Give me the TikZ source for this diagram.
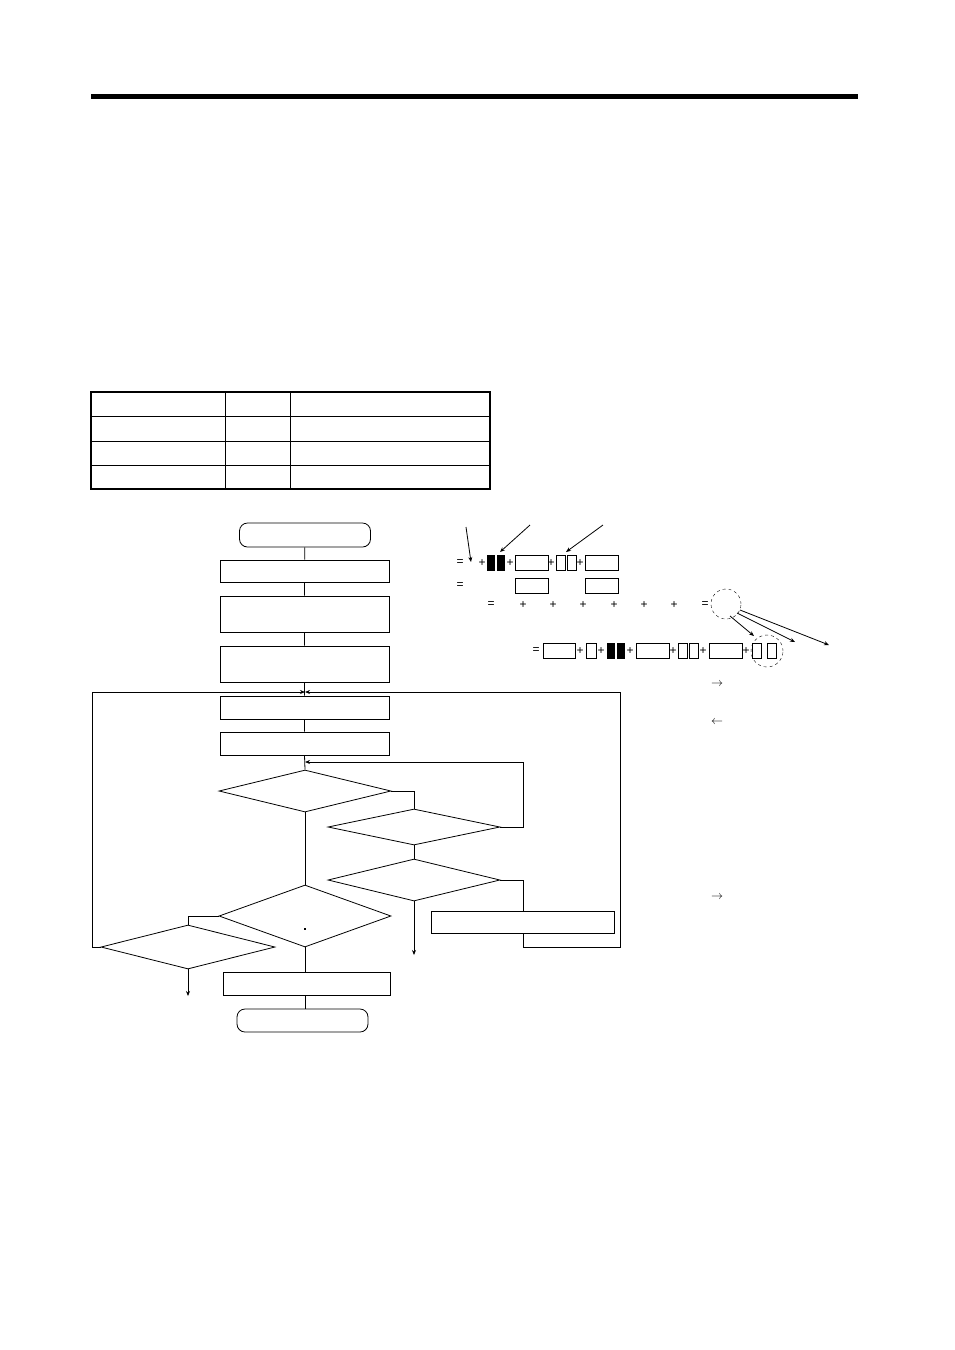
\documentclass[tikz,border=0pt]{standalone}
\usepackage{fontspec}
\setmainfont{Liberation Sans}
\usetikzlibrary{shapes.geometric,arrows.meta}
\begin{document}
\begin{tikzpicture}[x=1pt,y=-1pt,line width=0.8pt,
  bx/.style={draw,minimum height=22pt,minimum width=169pt,inner sep=0pt},
  term/.style={draw,rounded corners=8pt,minimum height=24pt,minimum width=131pt,inner sep=0pt},
  dia/.style={draw,diamond,aspect=4,inner sep=0pt},
  arr/.style={-{Stealth[length=5pt,width=4pt]}},
  wb/.style={draw,line width=0.5pt,inner sep=0pt},
  bb/.style={fill=black,inner sep=0pt},
  sym/.style={inner sep=0pt,font=\large}]
\useasboundingbox (0,0) rectangle (954,1350);
\fill (91,94) rectangle (858,99);
% table
\draw[line width=1.2pt] (91,392) rectangle (490,489);
\draw (91,416)--(490,416) (91,441)--(490,441) (91,465)--(490,465);
\draw (225,392)--(225,489) (290,392)--(290,489);
% flowchart
\node[term] (st) at (305,535) {};
\node[bx] (b1) at (304.5,571) {};
\node[bx,minimum height=36pt] (b2) at (304.5,614) {};
\node[bx,minimum height=36pt] (b3) at (304.5,664) {};
\node[bx,minimum height=23pt] (b4) at (304.5,707.5) {};
\node[bx,minimum height=23pt] (b5) at (304.5,743.5) {};
\node[dia,minimum width=172pt,minimum height=42pt] (d1) at (305,791) {};
\node[dia,minimum width=172pt,minimum height=36pt] (d2) at (414,827) {};
\node[dia,minimum width=172pt,minimum height=42pt] (d3) at (414,880) {};
\node[dia,minimum width=172pt,minimum height=62pt] (d4) at (305,916) {};
\node[dia,minimum width=174pt,minimum height=44pt] (d5) at (188,947) {};
\node[bx,minimum width=183pt] (b6) at (522.5,922) {};
\node[bx,minimum width=167pt,minimum height=23pt] (b7) at (306.5,983.5) {};
\node[term,minimum width=131pt,minimum height=23pt] (en) at (302.5,1020.5) {};
\coordinate (m) at (305,692);
\coordinate (lp) at (92,692);
\coordinate (rp) at (620,692);
\draw (st)--(b1) (b1)--(b2) (b2)--(b3) (b3.south)--(b4.north);
\draw[arr] (d5.west)--(92,947)--(lp)--(m);
\draw[arr] (b6.south -| 523,0) |- (620,947) -- (rp) -- (m);
\draw (b4)--(b5) (b5.south)--(d1.north);
\draw[arr] (d2.east)--(523,827)--(523,762)--(305,762);
\draw (d1.east)-|(d2.north) (d2.south)--(d3.north);
\draw (d3.east)-|(b6.north -| 523,0);
\draw[arr] (d3.south)--(414,955);
\draw (d1.south)--(d4.north);
\draw (d4.west)-|(d5.north);
\draw[arr] (d5.south)--(188,996);
\draw (d4.south)--(b7.north -| d4.south) (b7.south -| 305,0)--(en.north -| 305,0);
\fill (304,928) rectangle (306,930);
% formulas
\draw[arr] (466,527)--(471,562);
\draw[arr] (530,525)--(500,552);
\draw[arr] (603,525)--(566,552);
\node[sym] at (460,563) {=};
\node[sym] at (482,563) {+};
\node[bb,minimum width=8pt,minimum height=16pt] at (491,563) {};
\node[bb,minimum width=8pt,minimum height=16pt] at (501,563) {};
\node[sym] at (510,563) {+};
\node[wb,minimum width=33pt,minimum height=15pt] at (531.5,563) {};
\node[sym] at (551,563) {+};
\node[wb,minimum width=9pt,minimum height=15pt] at (560.5,563) {};
\node[wb,minimum width=9pt,minimum height=15pt] at (571.5,563) {};
\node[sym] at (580,563) {+};
\node[wb,minimum width=33pt,minimum height=15pt] at (601.5,563) {};
\node[sym] at (460,586) {=};
\node[wb,minimum width=33pt,minimum height=15pt] at (531.5,586) {};
\node[wb,minimum width=33pt,minimum height=15pt] at (601.5,586) {};
\node[sym] at (491,605) {=};
\foreach \xx in {523,553,583,614,644,674} \node[sym] at (\xx,605) {+};
\node[sym] at (705,605) {=};
\node[draw,circle,dashed,line width=0.4pt,minimum size=30pt,inner sep=0pt] (c1) at (726,604) {};
\draw[arr] (730,616)--(754,636);
\draw[arr] (737,613)--(795,642);
\draw[arr] (740,610)--(829,645);
\node[sym] at (536,651) {=};
\node[wb,minimum width=32pt,minimum height=15pt] at (559,651) {};
\node[sym] at (580,651) {+};
\node[wb,minimum width=10pt,minimum height=15pt] at (591,651) {};
\node[sym] at (601,651) {+};
\node[bb,minimum width=8pt,minimum height=16pt] at (611,651) {};
\node[bb,minimum width=8pt,minimum height=16pt] at (621,651) {};
\node[sym] at (630,651) {+};
\node[wb,minimum width=33pt,minimum height=15pt] at (652.5,651) {};
\node[sym] at (673,651) {+};
\node[wb,minimum width=9pt,minimum height=15pt] at (682.5,651) {};
\node[wb,minimum width=9pt,minimum height=15pt] at (693.5,651) {};
\node[sym] at (703,651) {+};
\node[wb,minimum width=33pt,minimum height=15pt] at (725.5,651) {};
\node[sym] at (746,651) {+};
\node[wb,minimum width=9pt,minimum height=15pt] at (756.5,651) {};
\node[wb,minimum width=9pt,minimum height=15pt] at (771.5,651) {};
\node[draw,circle,dashed,line width=0.4pt,minimum size=32pt,inner sep=0pt] (c2) at (767,651) {};
\node[sym] at (717,684) {$\rightarrow$};
\node[sym] at (717,722) {$\leftarrow$};
\node[sym] at (717,897) {$\rightarrow$};
\end{tikzpicture}
\end{document}
